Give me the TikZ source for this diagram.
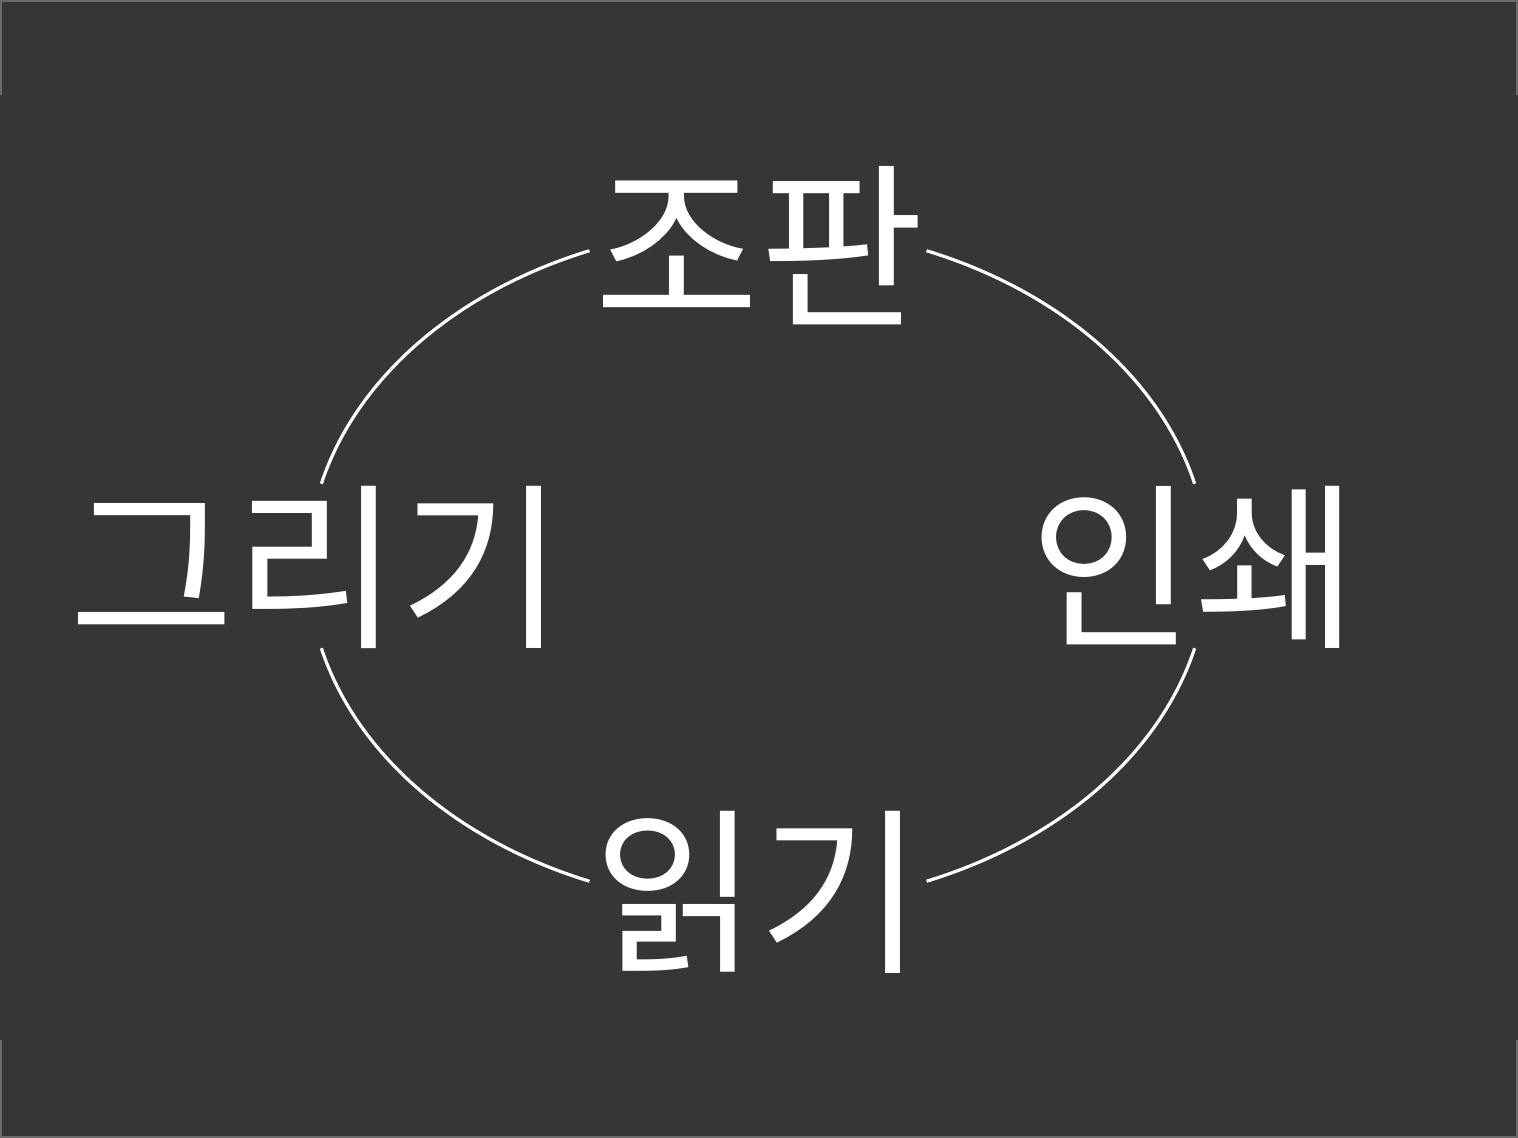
\documentclass[tikz,border=0pt]{standalone}
\usepackage{fontspec}
\newfontfamily\krfont{Noto Sans CJK KR}
\usetikzlibrary{backgrounds}
\definecolor{slate}{HTML}{363636}
\definecolor{rim}{HTML}{6B6B6B}
\begin{document}
\begin{tikzpicture}[auto]
\tikzstyle{word} = [text=white, inner sep=0pt, font=\krfont\fontsize{51}{56}\selectfont]
\tikzstyle{ring} = [draw=white, line width=0.9pt];
\tikzstyle{edge} = [draw=rim, line width=0.6pt];
% canvas
\fill[slate] (0,0) rectangle (15.18,11.38);
\useasboundingbox (0,0) rectangle (15.18,11.38);
\path[edge] (0,11.37) -- (15.18,11.37);
\path[edge] (0,0.01) -- (15.18,0.01);
\path[edge] (0.01,11.38) -- (0.01,10.43);
\path[edge] (15.17,11.38) -- (15.17,10.43);
\path[edge] (0.01,0) -- (0.01,0.98);
\path[edge] (15.17,0) -- (15.17,0.98);
% labels
\node [word] (typeset) at (7.59,8.92) {조판};
\node [word] (print) at (11.94,5.71) {인쇄};
\node [word] (read) at (7.58,2.46) {읽기};
\node [word] (draw) at (3.17,5.71) {그리기};
% cycle
\coordinate (mid) at (7.58,5.72);
\path (mid) +(112:4.5 and 3.4) coordinate (tl);
\path (mid) +(194:4.5 and 3.4) coordinate (bl);
\path (mid) +(292:4.5 and 3.4) coordinate (br);
\path (mid) +(14:4.5 and 3.4) coordinate (tr);
\path[ring] (tl) arc[start angle=112, end angle=166, x radius=4.5, y radius=3.4];
\path[ring] (bl) arc[start angle=194, end angle=248, x radius=4.5, y radius=3.4];
\path[ring] (br) arc[start angle=292, end angle=346, x radius=4.5, y radius=3.4];
\path[ring] (tr) arc[start angle=14, end angle=68, x radius=4.5, y radius=3.4];
\end{tikzpicture}
\end{document}
